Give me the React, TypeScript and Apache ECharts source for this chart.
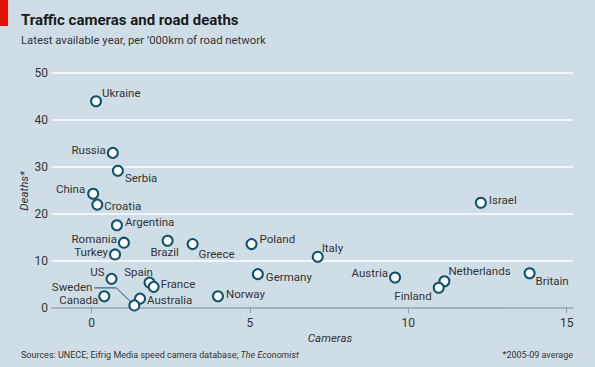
import React, { useEffect, useRef } from "react";
import * as echarts from "echarts";

const countries = ["Ukraine","Russia","Serbia","China","Croatia","Argentina","Romania","Turkey","Brazil","Greece","Poland","US","Spain","France","Canada","Australia","Sweden","Norway","Germany","Israel","Italy","Austria","Netherlands","Finland","Britain"];
const cameras = [0.14,0.67,0.83,0.05,0.18,0.80,1.02,0.74,2.40,3.19,5.05,0.63,1.83,1.96,0.40,1.53,1.35,3.99,5.25,12.29,7.14,9.58,11.14,10.96,13.83];
const deaths = [44.0,33.0,29.2,24.3,22.0,17.6,13.9,11.4,14.3,13.6,13.6,6.2,5.4,4.5,2.5,2.0,0.55,2.5,7.2,22.4,10.9,6.5,5.7,4.3,7.4];
const xTicks = [0, 5, 10, 15];
const yTicks = [0, 10, 20, 30, 40, 50];

// label placement: [align, dx, dy]
const labelPlace: Record<string, [string, number, number]> = {
  Ukraine: ["left", 6, -8], Russia: ["right", -7, -3], Serbia: ["left", 7, 7],
  China: ["right", -8, -5], Croatia: ["left", 7, 1], Argentina: ["left", 8, -3],
  Romania: ["right", -7, -4], Turkey: ["right", -7, -2], Brazil: ["center", -3, 11],
  Greece: ["left", 6, 10], Poland: ["left", 8, -5], US: ["right", -7, -7],
  Spain: ["center", -11, -11], France: ["left", 7, -3], Canada: ["right", -6, 4],
  Australia: ["left", 7, 1], Sweden: ["right", -42, -18], Norway: ["left", 8, -2],
  Germany: ["left", 8, 3], Israel: ["left", 8, -3], Italy: ["left", 4, -9],
  Austria: ["right", -7, -4], Netherlands: ["left", 4, -10], Finland: ["right", -7, 8],
  Britain: ["left", 6, 8],
};

const FONT = "Roboto";
const TEXT = "#333333";
const MARK = "#0e506d";
const SRC = "Sources: UNECE; Eifrig Media speed camera database; ";
const FOOT = 9;

export default function App() {
  const ref = useRef<HTMLDivElement>(null);
  useEffect(() => {
    document.body.style.margin = "0";
    const chart = echarts.init(ref.current!, null, { renderer: "svg" });
    const data = countries.map((c, i) => {
      const [align, dx, dy] = labelPlace[c];
      return {
        name: c,
        value: [cameras[i], deaths[i]],
        label: { align, offset: [dx, dy] },
      };
    });
    const option: any = {
      animation: false,
      backgroundColor: "#cfdee6",
      textStyle: { fontFamily: FONT },
      grid: { left: 52, right: 22, top: 73, bottom: 59 },
      xAxis: {
        type: "value", min: -1.25, max: 15.2,
        axisLine: { show: true, onZero: false, lineStyle: { color: "#8c9aa2", width: 1.5 } },
        axisTick: { show: true, customValues: xTicks, length: 5, lineStyle: { color: "#8c9aa2" } },
        axisLabel: { customValues: xTicks, color: TEXT, fontSize: 12, margin: 9, fontFamily: FONT },
        splitLine: { show: false },
      },
      yAxis: {
        type: "value", min: 0, max: 50, interval: 10,
        axisLine: { show: false }, axisTick: { show: false },
        axisLabel: { color: TEXT, fontSize: 12, margin: 4, fontFamily: FONT, formatter: (v: number) => (yTicks.includes(v) ? String(v) : "") },
        splitLine: { show: true, lineStyle: { color: "#ffffff", width: 1.5 } },
      },
      series: [{
        type: "scatter",
        symbol: "circle",
        symbolSize: 10,
        itemStyle: { color: "#ffffff", borderColor: MARK, borderWidth: 2, opacity: 1 },
        label: {
          show: true, position: "inside", distance: 0, formatter: "{b}",
          color: TEXT, fontSize: 11.5, fontFamily: FONT, verticalAlign: "middle",
        },
        data,
        z: 5,
      }],
    };
    chart.setOption(option);
    const measure = (t: string, font: string) => {
      const c = document.createElement("canvas").getContext("2d")!;
      c.font = font;
      return c.measureText(t).width;
    };
    const w = measure(SRC, `${FOOT}px ${FONT}`);
    const si = countries.indexOf("Sweden");
    const p = chart.convertToPixel({ seriesIndex: 0 }, [cameras[si], deaths[si]]) as number[];
    chart.setOption({
      graphic: [
        { type: "rect", left: 0, top: 0, shape: { width: 8, height: 26 }, style: { fill: "#e3120b" } },
        { type: "text", left: 21, top: 12, style: { text: "Traffic cameras and road deaths", fontSize: 15, fontWeight: "bold", fill: "#1a1a1a", fontFamily: FONT } },
        { type: "text", left: 21, top: 35, style: { text: "Latest available year, per \u2019000km of road network", fontSize: 11.3, fill: TEXT, fontFamily: FONT } },
        { type: "text", left: 21, top: 350, style: { text: SRC, fontSize: FOOT, fill: TEXT, fontFamily: FONT } },
        { type: "text", left: 21 + w, top: 350, style: { text: "The Economist", fontSize: FOOT, fontStyle: "italic", fill: TEXT, fontFamily: FONT } },
        { type: "text", right: 22, top: 350, style: { text: "*2005-09 average", fontSize: FOOT, fill: TEXT, fontFamily: FONT } },
        { type: "text", x: 330, y: 338, style: { text: "Cameras", fontSize: 11.5, fontStyle: "italic", fill: TEXT, fontFamily: FONT, align: "center", verticalAlign: "middle" } },
        { type: "text", x: 24, y: 191, rotation: Math.PI / 2, style: { text: "Deaths*", fontSize: 11.5, fontStyle: "italic", fill: TEXT, fontFamily: FONT, align: "center", verticalAlign: "middle" } },
        { type: "polyline", z: 3, shape: { points: [[p[0] - 40, p[1] - 17.5], [p[0] - 18, p[1] - 17.5], [p[0] - 3, p[1] - 3]] }, style: { stroke: MARK, lineWidth: 1, fill: "none" } },
      ],
    });
    return () => chart.dispose();
  }, []);
  return <div ref={ref} style={{ width: 595, height: 367, position: "fixed", left: 0, top: 0 }} />;
}
